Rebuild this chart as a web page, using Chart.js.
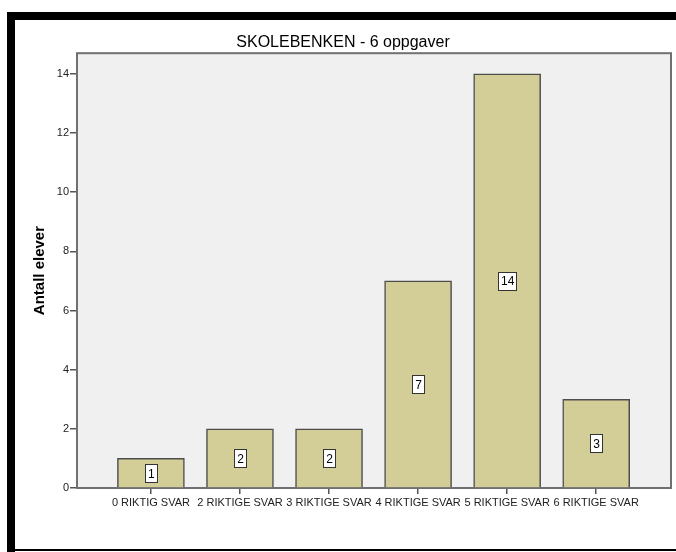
<!DOCTYPE html>
<html>
<head>
<meta charset="utf-8">
<script src="https://cdn.jsdelivr.net/npm/chart.js@4"></script>
<style>
  html, body { margin: 0; padding: 0; background: #fff; }
  #wrap { width: 676px; height: 552px; position: relative; }
</style>
</head>
<body>
<div id="wrap"><canvas id="chart" width="676" height="552"></canvas></div>
<script>
var categories = ['0 RIKTIG SVAR', '2 RIKTIGE SVAR', '3 RIKTIGE SVAR', '4 RIKTIGE SVAR', '5 RIKTIGE SVAR', '6 RIKTIGE SVAR']
var counts = [1, 2, 2, 7, 14, 3]
var yTicks = [0, 2, 4, 6, 8, 10, 12, 14]

var points = []
for (var i = 0; i < categories.length; i++) {
    points.push({x: i, y: counts[i]})
}

var FONT = '"Liberation Sans", Arial, sans-serif'

// black frame + grey plot background
var framePlugin = {
    id: 'frame',
    beforeDraw: function(chart){
        var ctx = chart.ctx
        var a = chart.chartArea
        ctx.save()
        ctx.fillStyle = '#000'
        ctx.fillRect(7, 12, 669, 8)
        ctx.fillRect(7, 12, 8, 540)
        ctx.fillRect(7, 549, 669, 2)
        ctx.fillStyle = '#f0f0f0'
        ctx.fillRect(a.left, a.top, a.right - a.left, a.bottom - a.top)
        ctx.restore()
    },
    beforeDatasetsDraw: function(chart){
        var ctx = chart.ctx
        var a = chart.chartArea
        ctx.save()
        ctx.strokeStyle = '#707070'
        ctx.lineWidth = 2
        ctx.strokeRect(a.left, a.top, a.right - a.left, a.bottom - a.top)
        ctx.restore()
    }
}

// value boxes in the middle of each bar
var labelPlugin = {
    id: 'barLabels',
    afterDatasetsDraw: function(chart){
        var ctx = chart.ctx
        var meta = chart.getDatasetMeta(0)
        ctx.save()
        ctx.font = '12px ' + FONT
        ctx.textAlign = 'center'
        ctx.textBaseline = 'middle'
        meta.data.forEach(function(bar, idx){
            var txt = String(counts[idx])
            var cy = (bar.y + bar.base) / 2
            var w = Math.round(ctx.measureText(txt).width + 5)
            var h = 18
            var bx = Math.round(bar.x - w / 2)
            var by = Math.round(cy - h / 2)
            ctx.fillStyle = '#fff'
            ctx.fillRect(bx, by, w, h)
            ctx.strokeStyle = '#333'
            ctx.lineWidth = 1
            ctx.strokeRect(bx + 0.5, by + 0.5, w, h)
            ctx.fillStyle = '#000'
            ctx.fillText(txt, bar.x + 0.5, cy + 1.5)
        })
        ctx.restore()
    }
}

var ctx = document.getElementById('chart').getContext('2d')
var chart = new Chart(ctx, {
    type: 'bar',
    data: {
        datasets: [{
            label: 'Antall elever',
            data: points,
            backgroundColor: '#d3ce97',
            borderColor: '#4d4d4d',
            borderWidth: 1.5,
            barThickness: 67
        }]
    },
    plugins: [framePlugin, labelPlugin],
    options: {
        responsive: false,
        animation: false,
        layout: { padding: { left: 15, right: 5, top: 20, bottom: 0 } },
        plugins: {
            legend: { display: false },
            tooltip: { enabled: false },
            title: {
                display: true,
                text: 'SKOLEBENKEN - 6 oppgaver',
                color: '#000',
                font: { family: FONT, size: 16, weight: 'normal' },
                padding: { top: 13, bottom: 1 }
            }
        },
        scales: {
            x: {
                type: 'linear',
                offset: false,
                min: -0.83,
                max: 5.84,
                afterBuildTicks: function(scale){
                    scale.ticks = categories.map(function(c, i){ return {value: i} })
                },
                afterFit: function(scale){ scale.height = 64 },
                grid: { offset: false, drawOnChartArea: false, drawTicks: true, tickLength: 6, tickColor: '#555', lineWidth: 1.5 },
                border: { display: false },
                ticks: {
                    autoSkip: false,
                    maxRotation: 0,
                    padding: 2,
                    color: '#222',
                    font: { family: FONT, size: 11 },
                    callback: function(v){ return categories[v] }
                }
            },
            y: {
                min: 0,
                max: 14.7,
                afterBuildTicks: function(scale){
                    scale.ticks = yTicks.map(function(v){ return {value: v} })
                },
                afterFit: function(scale){ scale.width = 62 },
                grid: { drawOnChartArea: false, drawTicks: true, tickLength: 7, tickColor: '#555', lineWidth: 1.5 },
                border: { display: false },
                ticks: {
                    padding: 1,
                    color: '#222',
                    font: { family: FONT, size: 11 }
                },
                title: {
                    display: true,
                    text: 'Antall elever',
                    color: '#000',
                    font: { family: FONT, size: 15, weight: 'bold' },
                    padding: { top: 16, bottom: 0 }
                }
            }
        }
    }
})
</script>
</body>
</html>
